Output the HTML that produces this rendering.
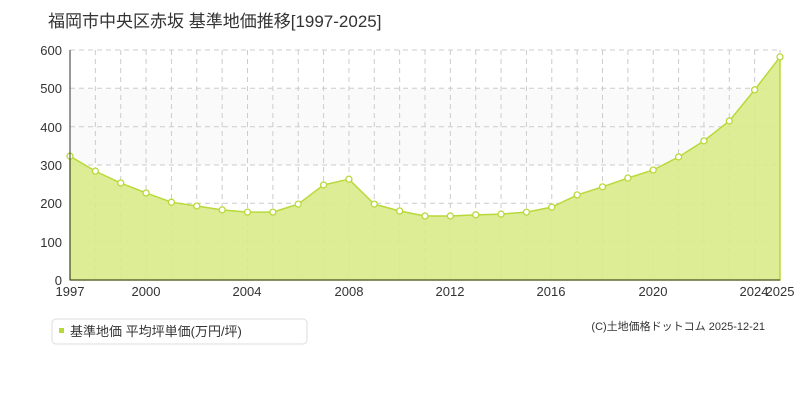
<!DOCTYPE html>
<html><head><meta charset="utf-8"><style>
body{margin:0;background:#fff;width:800px;height:400px;overflow:hidden;font-family:"Liberation Sans","Noto Sans CJK JP",sans-serif;}
</style></head><body>
<svg width="800" height="400" xmlns="http://www.w3.org/2000/svg" font-family="Liberation Sans, Noto Sans CJK JP, sans-serif">
<text x="48" y="27" font-size="17" fill="#333">福岡市中央区赤坂 基準地価推移[1997-2025]</text>
<rect x="70" y="89" width="710" height="76" fill="#fafafa"/>
<g stroke="#ccc" stroke-dasharray="5,4" stroke-width="1">
<line x1="70" y1="50" x2="780" y2="50"/><line x1="70" y1="88.3" x2="780" y2="88.3"/><line x1="70" y1="126.7" x2="780" y2="126.7"/><line x1="70" y1="165" x2="780" y2="165"/><line x1="70" y1="203.3" x2="780" y2="203.3"/><line x1="70" y1="241.7" x2="780" y2="241.7"/>
</g>
<g stroke="#ccc" stroke-dasharray="5,4" id="vg"></g>
<polygon id="area" fill="#d8eb8a" fill-opacity="0.9" stroke="#b8d93a" stroke-width="1.5"/>
<g id="pts"></g>
<line x1="70" y1="50" x2="70" y2="280" stroke="#333"/>
<line x1="70" y1="280" x2="780" y2="280" stroke="#333"/>
<g font-size="13" fill="#333" text-anchor="end">
<text x="62" y="55">600</text><text x="62" y="93">500</text><text x="62" y="132">400</text><text x="62" y="170">300</text><text x="62" y="208">200</text><text x="62" y="247">100</text><text x="62" y="285">0</text>
</g>
<g font-size="13" fill="#333" text-anchor="middle">
<text x="70" y="296">1997</text><text x="146" y="296">2000</text><text x="247" y="296">2004</text><text x="349" y="296">2008</text><text x="450" y="296">2012</text><text x="551" y="296">2016</text><text x="653" y="296">2020</text><text x="754" y="296">2024</text><text x="780" y="296">2025</text>
</g>
<rect x="52" y="319" width="255" height="25" rx="4" fill="#fff" stroke="#ddd"/>
<rect x="59" y="328" width="5" height="5" fill="#b8d93a"/>
<text x="70" y="336" font-size="13" fill="#333">基準地価 平均坪単価(万円/坪)</text>
<text x="765" y="330" font-size="11" fill="#333" text-anchor="end">(C)土地価格ドットコム 2025-12-21</text>
</svg>
<script>
var d=[323,284,253,227,203,193,183,177,177,198,248,263,198,180,167,167,170,172,177,190,222,243,266,287,321,363,415,496,582];
var ns="http://www.w3.org/2000/svg",pts=[],g=document.getElementById('pts'),vg=document.getElementById('vg');
d.forEach(function(v,i){var x=70+i*710/28,y=280-v*230/600;pts.push(x+','+y);
var c=document.createElementNS(ns,'circle');c.setAttribute('cx',x);c.setAttribute('cy',y);c.setAttribute('r',3);c.setAttribute('fill','#fff');c.setAttribute('stroke','#b8d93a');c.setAttribute('stroke-width','1.3');g.appendChild(c);
if(i>0){var l=document.createElementNS(ns,'line');l.setAttribute('x1',x);l.setAttribute('x2',x);l.setAttribute('y1',50);l.setAttribute('y2',280);vg.appendChild(l);}});
document.getElementById('area').setAttribute('points','70,280 '+pts.join(' ')+' 780,280');
</script>
</body></html>
